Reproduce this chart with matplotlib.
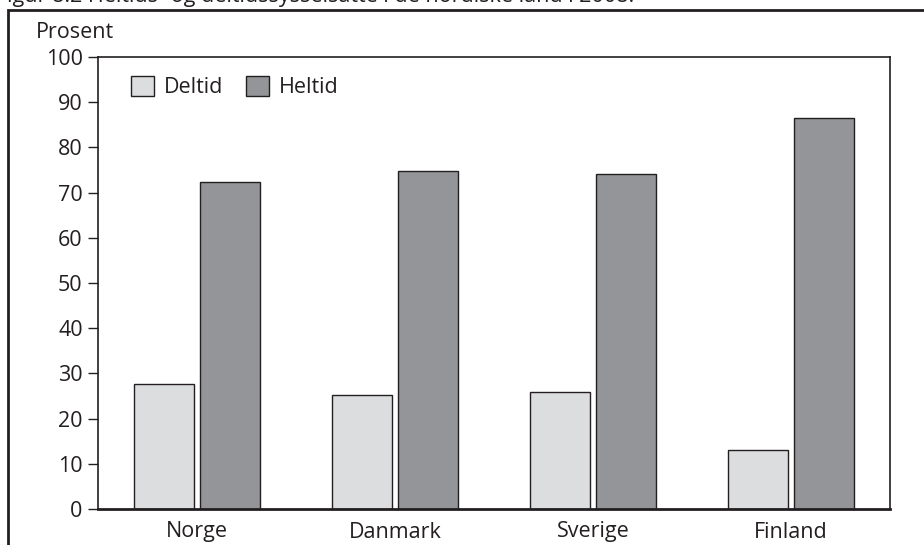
import numpy as np
import matplotlib.pyplot as plt
from matplotlib.patches import Rectangle

plt.rcParams['font.family'] = ['Open Sans', 'DejaVu Sans']

# data
countries = ['Norge', 'Danmark', 'Sverige', 'Finland']
deltid = [27.6, 25.2, 25.9, 13.0]
heltid = [72.4, 74.8, 74.1, 86.6]
series_names = ['Deltid', 'Heltid']
yticks = list(range(0, 101, 10))

light = '#dcdddf'
dark = '#939598'
edge = '#231f20'
fs = 15.5

fig = plt.figure(figsize=(9.24, 5.45), dpi=100)
ax = fig.add_axes([98 / 924, 1 - 509 / 545, 792 / 924, 452 / 545])

x = np.arange(len(countries))
w = 0.305
off = 0.168
ax.bar(x - off, deltid, w, color=light, edgecolor=edge, linewidth=1.0, label=series_names[0])
ax.bar(x + off, heltid, w, color=dark, edgecolor=edge, linewidth=1.0, label=series_names[1])

ax.set_xlim(-0.5, len(countries) - 0.5)
ax.set_ylim(0, 100)
ax.set_yticks(yticks)
ax.set_xticks(x)
ax.set_xticklabels(countries)
ax.tick_params(axis='x', length=0, pad=9, labelsize=fs, colors=edge)
ax.tick_params(axis='y', length=7, width=1, pad=4, labelsize=fs, colors=edge)

for side in ['left', 'top', 'right']:
    ax.spines[side].set_linewidth(1.2)
    ax.spines[side].set_color(edge)
ax.spines['bottom'].set_linewidth(2.0)
ax.spines['bottom'].set_color(edge)

leg = ax.legend(loc='upper left', ncol=2, frameon=False, fontsize=fs,
                handlelength=1.07, handleheight=1.07, handletextpad=0.47,
                columnspacing=1.05, borderpad=0, borderaxespad=0,
                bbox_to_anchor=(33 / 792, 1 - 19 / 452))
for t in leg.get_texts():
    t.set_color(edge)

fig.text(36 / 924, 1 - 33 / 545, 'Prosent', ha='left', va='center', fontsize=fs, color=edge)

# outer frame (runs off right and bottom edges)
fig.patches.append(Rectangle((8 / 924, -0.1), 1.1, 1.1 - 10 / 545,
                             transform=fig.transFigure, fill=False,
                             edgecolor=edge, linewidth=2.0))

# partially cut-off caption at the top
fig.text(-4 / 924, 1 - 2 / 545, 'Figur 8.2 Heltids- og deltidssysselsatte i de nordiske land i 2008.',
         ha='left', va='baseline', fontsize=fs, color=edge)

fig.savefig('out.png', dpi=100)
